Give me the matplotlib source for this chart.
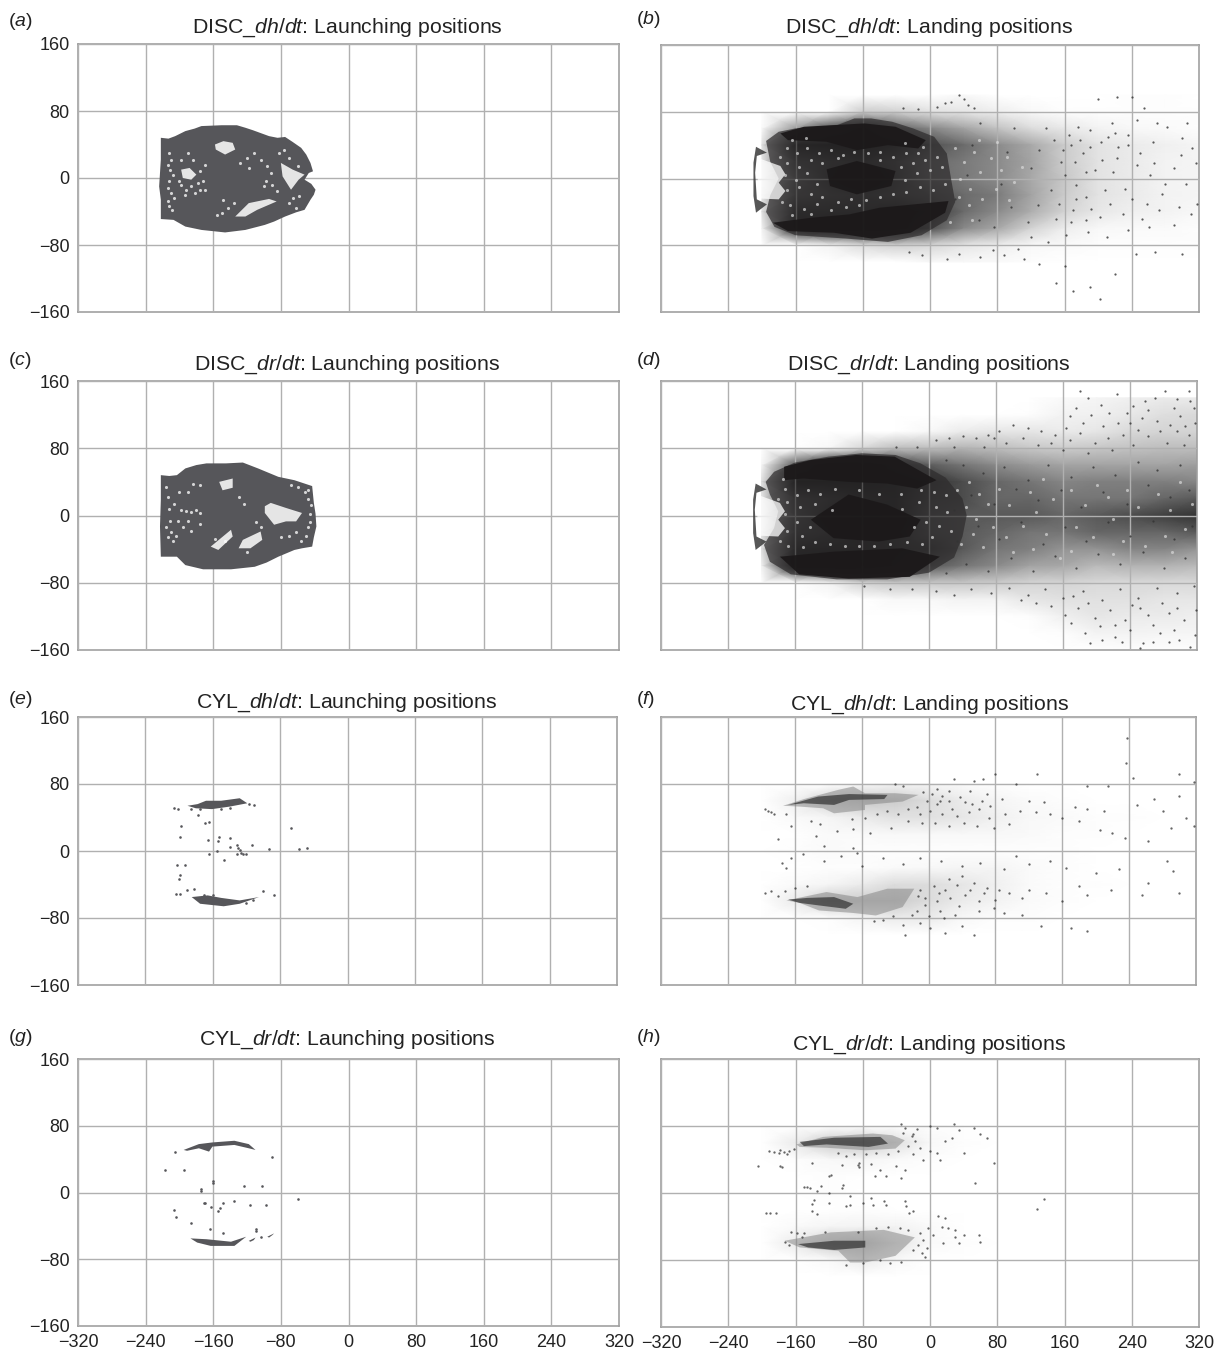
import matplotlib
matplotlib.use('Agg')
import matplotlib.pyplot as plt
import numpy as np

plt.rcParams['font.family'] = ['Liberation Sans', 'DejaVu Sans']
plt.rcParams['mathtext.fontset'] = 'custom'
plt.rcParams['mathtext.rm'] = 'Liberation Sans'
plt.rcParams['mathtext.it'] = 'Liberation Sans:italic'
plt.rcParams['mathtext.default'] = 'regular'

TICKS_X = [-320, -240, -160, -80, 0, 80, 160, 240, 320]
TICKS_Y = [-160, -80, 0, 80, 160]
TITLES = {
    'a': r'DISC_$\mathit{dh/dt}$: Launching positions',
    'b': r'DISC_$\mathit{dh/dt}$: Landing positions',
    'c': r'DISC_$\mathit{dr/dt}$: Launching positions',
    'd': r'DISC_$\mathit{dr/dt}$: Landing positions',
    'e': r'CYL_$\mathit{dh/dt}$: Launching positions',
    'f': r'CYL_$\mathit{dh/dt}$: Landing positions',
    'g': r'CYL_$\mathit{dr/dt}$: Launching positions',
    'h': r'CYL_$\mathit{dr/dt}$: Landing positions',
}

# launching clouds: outlines and the white gaps inside them
A_CLOUD = [(-222, 48), (-213, 47), (-205, 50), (-193, 56), (-182, 59), (-174, 62), (-150, 63), (-132, 63), (-122, 60),
           (-113, 57), (-94, 50), (-84, 48), (-75, 49), (-66, 43), (-56, 36), (-50, 28), (-45, 18), (-42, 8), (-47, 6),
           (-52, -2), (-44, -7), (-39, -14), (-41, -20), (-45, -26), (-52, -38), (-62, -41), (-75, -46), (-88, -52),
           (-99, -56), (-122, -62), (-146, -65), (-174, -62), (-193, -58), (-207, -50), (-222, -49), (-222, -26),
           (-224, -10), (-222, 22)]
A_GAPS = [[(-158, 40), (-148, 44), (-137, 42), (-134, 34), (-146, 28), (-157, 34)],
          [(-80, 18), (-66, 10), (-52, 4), (-59, -2), (-68, -14), (-78, 2)],
          [(-134, -46), (-118, -30), (-94, -25), (-85, -28), (-108, -38), (-122, -46)],
          [(-198, 10), (-188, 12), (-180, 4), (-186, -2), (-196, 0)]]
A_SPECK = [(-212, 30), (-210, 22), (-211, 10), (-212, -4), (-210, -18), (-213, -28), (-212, -33), (-209, -38),
           (-214, 16), (-208, 4), (-213, -12), (-207, -24), (-198, -8), (-192, -14), (-186, -10), (-178, -6), (-172, -4),
           (-176, 8), (-170, 16), (-198, 22), (-190, 30), (-120, 24), (-112, 30), (-104, 22), (-96, 14), (-92, 6),
           (-90, -8), (-84, -16), (-100, -10), (-150, -42), (-142, -36), (-156, -44), (-128, 18), (-118, 12), (-70, -30),
           (-62, -36), (-70, 24), (-60, 14), (-194, -20), (-182, -18), (-170, -14), (-200, -4), (-184, 22), (-176, -14),
           (-148, -26), (-136, -30), (-98, -4), (-76, 34), (-82, 30), (-66, -24), (-58, -22)]

C_CLOUD = [(-222, 48), (-212, 47), (-203, 48), (-193, 56), (-180, 60), (-168, 62), (-145, 62), (-125, 63), (-107, 56),
           (-95, 51), (-83, 46), (-64, 42), (-52, 38), (-43, 35), (-42, 25), (-41, 15), (-39, 2), (-38, -13), (-41, -26),
           (-43, -37), (-55, -39), (-64, -41), (-83, -49), (-97, -56), (-111, -61), (-139, -64), (-172, -64), (-193, -59),
           (-203, -49), (-222, -49), (-223, -13), (-222, 19)]
C_GAPS = [[(-153, 40), (-137, 44), (-137, 33), (-149, 30)],
          [(-99, 11), (-92, 15), (-74, 9), (-55, 3), (-62, -7), (-74, -7), (-88, -11), (-99, 3)],
          [(-125, -29), (-104, -19), (-102, -29), (-116, -39), (-130, -39)],
          [(-163, -37), (-139, -17), (-137, -25), (-154, -41)]]
C_SPECK = [(-213, 22), (-212, 8), (-211, -6), (-210, -20), (-214, -26), (-208, -30), (-198, 6), (-192, 5), (-186, 4),
           (-180, 6), (-176, 3), (-196, -14), (-186, -18), (-190, 28), (-184, 38), (-176, 36), (-130, 22), (-124, 14),
           (-60, 34), (-52, 28), (-48, 20), (-68, 36), (-50, -24), (-56, -30), (-70, -24), (-80, -26), (-120, -44),
           (-146, -30), (-158, -28), (-110, -8), (-104, -14), (-46, 2), (-46, -8), (-216, 34), (-206, 14), (-202, -6),
           (-216, -14), (-204, -24), (-190, -6), (-200, 28), (-176, -10), (-48, 30), (-44, 12), (-62, -20), (-48, -14)]

E_CLOUDS = [[(-190, 54), (-178, 56), (-168, 60), (-150, 60), (-128, 63), (-119, 57), (-140, 53), (-161, 50), (-180, 51)],
            [(-185, -55), (-166, -53), (-150, -56), (-128, -59), (-105, -55), (-128, -63), (-147, -66), (-175, -63)]]
E_DOTS = [(-206, 51), (-201, 50), (-178, 43), (-169, 34), (-164, 35), (-198, 30), (-199, 17), (-166, 13), (-153, 17),
          (-139, 15), (-154, 12), (-140, 5), (-131, 7), (-128, 1), (-131, -4), (-124, -3), (-120, -3), (-113, 7),
          (-93, 2), (-67, 27), (-57, 2), (-48, 3), (-155, 0), (-165, -3), (-147, -11), (-202, -17), (-193, -17),
          (-199, -29), (-200, -33), (-199, -51), (-204, -51), (-191, -47), (-182, -45), (-100, -48), (-87, -53),
          (-117, 56), (-111, 55), (-130, 4), (-127, -2), (-186, 50), (-175, 50), (-150, 50), (-140, 51), (-170, -52),
          (-160, -52), (-120, -62), (-112, -58)]

G_CLOUDS = [[(-195, 51), (-177, 58), (-161, 60), (-135, 62), (-118, 58), (-110, 51), (-118, 53), (-135, 57),
             (-161, 55), (-165, 49), (-177, 53), (-191, 50)],
            [(-187, -55), (-168, -56), (-139, -59), (-121, -53), (-135, -64), (-163, -64), (-179, -60)],
            [(-118, -58), (-110, -54), (-112, -57), (-116, -59)],
            [(-96, -53), (-88, -49), (-90, -51), (-94, -54)]]
G_DOTS = [(-205, 49), (-217, 27), (-195, 27), (-175, 4), (-174, 2), (-160, 11), (-160, 14), (-102, 8), (-124, 8),
          (-60, -8), (-171, -12), (-170, -13), (-149, -13), (-152, -19), (-154, -22), (-136, -10), (-116, -15),
          (-98, -15), (-207, -21), (-204, -29), (-186, -37), (-164, -44), (-109, -44), (-149, -49), (-90, 43),
          (-163, -17), (-104, -53), (-110, -46)]

# landing panels: darkness read on a coarse x / y net
NET_X = [-200, -160, -120, -80, -40, 0, 40, 80, 120, 160, 200, 240, 280, 320]
B_NET_Y = [100, 80, 60, 40, 20, 0, -20, -40, -60, -80, -100]
B_NET = [[0, 0, 0, 0, 0, 0, .03, 0, 0, 0, 0, .01, .01, 0],
         [0, 0, 0, .2, .18, .12, .1, .07, .03, .01, .01, .01, .01, .01],
         [.02, .4, .7, .85, .62, .48, .36, .24, .14, .09, .05, .03, .02, .01],
         [.12, .9, .95, .95, .88, .68, .58, .46, .34, .2, .11, .08, .06, .04],
         [.1, .72, .8, .85, .75, .58, .52, .46, .36, .2, .11, .08, .05, .04],
         [.08, .62, .82, .92, .78, .58, .52, .46, .34, .22, .11, .08, .05, .04],
         [.1, .68, .75, .8, .75, .68, .58, .52, .36, .2, .11, .08, .05, .04],
         [.12, .85, .85, .85, .9, .78, .58, .46, .32, .17, .09, .06, .05, .03],
         [.05, .88, .95, .95, .9, .68, .46, .34, .17, .07, .03, .02, .02, .01],
         [0, 0, .05, .14, .18, .16, .1, .07, .03, .02, .01, .01, .01, .01],
         [0, 0, 0, 0, 0, .03, .03, .02, .01, 0, 0, 0, 0, 0]]
D_NET_Y = [140, 120, 100, 80, 60, 40, 20, 0, -20, -40, -60, -80, -100, -120, -140, -160]
D_NET = [[0, 0, 0, 0, 0, 0, 0, 0, 0, .02, .04, .06, .08, .08],
         [0, 0, 0, 0, 0, 0, 0, 0, .01, .05, .06, .09, .13, .15],
         [0, 0, 0, 0, 0, .03, .08, .1, .1, .08, .1, .15, .17, .17],
         [0, 0, .03, .16, .26, .26, .3, .26, .22, .2, .22, .24, .26, .26],
         [.03, .65, .95, .97, .75, .64, .54, .46, .4, .36, .36, .36, .36, .38],
         [.12, .95, .95, .95, .92, .8, .7, .6, .54, .48, .5, .5, .5, .48],
         [.1, .75, .82, .88, .9, .75, .7, .6, .6, .54, .54, .54, .6, .65],
         [.08, .7, .86, .95, .9, .7, .65, .65, .65, .6, .65, .7, .75, .8],
         [.1, .75, .82, .9, .85, .7, .65, .6, .54, .54, .6, .6, .6, .65],
         [.12, .88, .9, .9, .85, .8, .65, .54, .5, .42, .42, .48, .48, .42],
         [.05, .95, .97, .97, .8, .65, .54, .46, .36, .34, .27, .3, .3, .27],
         [0, 0, .05, .18, .22, .22, .22, .2, .17, .17, .15, .15, .15, .15],
         [0, 0, 0, 0, .03, .03, .05, .05, .1, .12, .12, .12, .1, .1],
         [0, 0, 0, 0, 0, 0, 0, 0, .01, .06, .1, .08, .08, .06],
         [0, 0, 0, 0, 0, 0, 0, 0, 0, .01, .05, .05, .04, .04],
         [0, 0, 0, 0, 0, 0, 0, 0, 0, 0, 0, .01, .01, .01]]
F_NET_Y = [80, 60, 40, 20, 0, -20, -40, -60, -80, -100]
F_NET = [[0, 0, 0, .03, .05, .04, .02, .01, 0, 0, 0, 0, 0, 0],
         [0, .06, .18, .22, .2, .14, .08, .04, .02, .01, 0, 0, 0, 0],
         [0, .02, .04, .08, .12, .12, .1, .06, .03, .02, .01, .01, 0, 0],
         [0, 0, .02, .02, .03, .03, .03, .03, .02, .01, .01, 0, 0, 0],
         [0, .01, .02, .01, .01, .01, .01, .01, .01, .01, 0, 0, 0, 0],
         [0, 0, .01, .01, .02, .03, .04, .04, .02, .01, 0, 0, 0, 0],
         [0, .02, .04, .08, .14, .14, .1, .06, .02, .01, .01, 0, 0, 0],
         [0, .08, .2, .2, .2, .14, .08, .05, .02, .01, 0, 0, 0, 0],
         [0, 0, .01, .04, .08, .08, .03, .01, .01, 0, 0, 0, 0, 0],
         [0, 0, 0, 0, 0, 0, 0, 0, 0, 0, 0, 0, 0, 0]]
H_NET_Y = [80, 60, 40, 20, 0, -20, -40, -60, -80, -100]
H_NET = [[0, 0, 0, .01, .01, .01, 0, 0, 0, 0, 0, 0, 0, 0],
         [0, .08, .2, .22, .12, .03, .01, 0, 0, 0, 0, 0, 0, 0],
         [0, .01, .03, .04, .02, .01, 0, 0, 0, 0, 0, 0, 0, 0],
         [0, 0, .01, 0, 0, 0, 0, 0, 0, 0, 0, 0, 0, 0],
         [0, 0, .01, 0, 0, 0, 0, 0, 0, 0, 0, 0, 0, 0],
         [0, 0, 0, .01, 0, 0, 0, 0, 0, 0, 0, 0, 0, 0],
         [0, .02, .04, .05, .05, .02, 0, 0, 0, 0, 0, 0, 0, 0],
         [0, .08, .2, .22, .1, .02, .01, 0, 0, 0, 0, 0, 0, 0],
         [0, 0, .02, .08, .03, 0, 0, 0, 0, 0, 0, 0, 0, 0],
         [0, 0, 0, 0, 0, 0, 0, 0, 0, 0, 0, 0, 0, 0]]

# dense bodies and cores of the landing clouds
B_BODY = [(-195, 45), (-180, 56), (-160, 60), (-110, 64), (-90, 72), (-70, 72), (-45, 68), (-20, 60), (5, 50), (20, 30),
          (25, 0), (30, -28), (20, -50), (-10, -68), (-50, -76), (-100, -72), (-160, -68), (-185, -58), (-195, -40),
          (-190, -20), (-180, 0), (-190, 20)]
D_BODY = [(-195, 40), (-185, 52), (-160, 63), (-120, 70), (-80, 74), (-40, 72), (-10, 62), (20, 45), (40, 20), (45, 0),
          (40, -25), (30, -50), (0, -68), (-50, -76), (-110, -76), (-165, -70), (-190, -55), (-197, -35), (-185, -15),
          (-180, 5), (-190, 25)]
B_CORES = [[(-178, 54), (-150, 62), (-78, 66), (-41, 62), (-5, 46), (-14, 36), (-50, 40), (-87, 34), (-123, 44), (-169, 46)],
           [(-123, 11), (-87, 21), (-41, 9), (-46, -9), (-87, -19), (-119, -9)],
           [(-187, -53), (-141, -47), (-96, -43), (-60, -35), (22, -27), (18, -41), (-23, -65), (-69, -72), (-114, -65), (-169, -63)]]
D_CORES = [[(-173, 58), (-141, 66), (-87, 72), (-41, 70), (9, 42), (-14, 32), (-50, 38), (-96, 40), (-150, 44), (-173, 42)],
           [(-141, -5), (-96, 25), (-50, 13), (-10, -5), (-23, -25), (-60, -31), (-114, -27)],
           [(-178, -49), (-114, -43), (-32, -39), (13, -49), (-23, -73), (-96, -75), (-155, -70)]]
FRONT = [(-207, 38), (-194, 31), (-206, 27), (-208, 7), (-206, -25), (-194, -31), (-207, -41), (-210, -21), (-210, 19)]
FRONT_GAP = [(-203, 24), (-178, 15), (-172, 5), (-180, -5), (-172, -15), (-180, -25), (-203, -24), (-205, 0)]

B_SPECK = [(-170, 36), (-158, 30), (-146, 36), (-132, 30), (-118, 34), (-104, 28), (-90, 32), (-74, 30), (-60, 32),
           (-170, 18), (-156, 14), (-142, 22), (-128, 18), (-110, 24), (-60, 22), (-44, 26), (-28, 30), (-14, 30),
           (-172, 4), (-160, -2), (-146, 6), (-134, -6), (-34, 14), (-20, 18), (-6, 22), (8, 26), (-30, -2), (-16, 6),
           (0, 10), (14, 14), (-170, -14), (-156, -10), (-142, -18), (-128, -22), (-110, -28), (-94, -24), (-76, -26),
           (-60, -22), (-44, -18), (-28, -16), (-12, -10), (4, -14), (18, -6), (-166, -32), (-150, -36), (-134, -30),
           (-118, -38), (-100, -34), (-84, -32), (-178, 26), (-176, -28), (-164, 46), (-148, 48), (-30, 42), (-164, -44),
           (-142, -42), (-8, 38), (30, 36), (40, 20), (52, 32), (36, 0), (48, -12), (60, 8), (34, -22), (46, -32), (62, -24),
           (72, 24), (84, 10), (78, -12), (92, 26), (100, -4), (94, -26), (110, 14), (58, 46), (80, 44), (24, -52), (50, -50)]
D_SPECK = [(-172, 32), (-158, 24), (-144, 30), (-130, 26), (-112, 32), (-84, 30), (-60, 26), (-34, 26), (-170, 16),
           (-154, 10), (-136, 14), (-116, 6), (-32, 8), (-12, 16), (-172, 2), (-158, -8), (-142, -14), (-18, -14), (-4, -8),
           (-170, -18), (-152, -24), (-136, -32), (-118, -34), (-100, -36), (-84, -36), (-66, -36), (-46, -34), (-26, -32),
           (-8, -34), (-168, -36), (-150, -38), (-10, 30), (6, 28), (20, 24), (-174, 44), (-180, 20), (-178, -30), (8, 10),
           (22, 4), (12, -12), (26, -18), (4, -26), (34, 30), (48, 40), (60, 26), (44, 10), (56, -4), (70, 14), (84, 32),
           (96, 12), (76, -14), (92, -26), (52, -22), (38, -34), (64, -38), (100, -44), (120, 28), (136, 44), (148, 20),
           (128, 4), (112, -12), (140, -22), (124, -40), (156, -50), (170, 30), (186, 12), (200, 36), (214, 22), (176, -14),
           (196, -26), (220, -4), (236, 30), (250, 10), (232, -30), (258, -36), (274, 26), (288, 6), (300, 40), (282, -24),
           (306, -16), (314, 14), (220, -46), (290, -44), (170, -42)]

F_STREAKS = [[(-174, 54), (-149, 62), (-108, 73), (-90, 77), (-76, 69), (-40, 69), (-12, 67), (-31, 59), (-76, 55),
              (-76, 49), (-113, 45), (-126, 51), (-154, 53)],
             [(-170, -59), (-122, -49), (-85, -55), (-49, -45), (-17, -45), (-31, -67), (-63, -77), (-90, -74),
              (-131, -71), (-154, -62)]]
F_DARK = [[(-168, 55), (-132, 65), (-95, 68), (-49, 67), (-53, 62), (-95, 61), (-113, 55), (-149, 57)],
          [(-168, -58), (-145, -56), (-113, -55), (-90, -63), (-99, -69), (-131, -65), (-154, -62)]]
H_STREAKS = [[(-159, 58), (-127, 67), (-68, 71), (-45, 69), (-30, 63), (-41, 53), (-77, 51), (-123, 54), (-155, 55)],
             [(-173, -57), (-118, -47), (-55, -44), (-18, -53), (-41, -75), (-77, -83), (-95, -83), (-109, -69), (-155, -65)]]
H_DARK = [[(-155, 61), (-114, 66), (-59, 67), (-50, 59), (-73, 55), (-123, 58), (-150, 56)],
          [(-157, -61), (-114, -57), (-77, -57), (-77, -65), (-114, -68), (-145, -65)]]

B_DOTS = [(40, 95), (35, 100), (25, 92), (45, 88), (18, 90), (52, 84), (-32, 85), (-14, 83), (8, 86), (200, 95), (222, 98),
          (240, 98), (255, 85), (150, -125), (170, -135), (190, -130), (202, -145), (220, -115), (160, -105), (130, -102),
          (112, -96), (88, -92), (60, -94), (20, -96), (-10, -92), (-25, -88), (35, -90), (75, -86), (105, -84), (245, -90),
          (268, -88), (300, -90), (282, 62), (300, 48), (312, 36), (265, 44), (250, 30), (236, 52), (224, 38), (212, 50),
          (205, 22), (218, 8), (232, -12), (246, 16), (262, 4), (276, -18), (290, 12), (305, -6), (316, 18), (258, -30),
          (272, -38), (296, -34), (310, -42), (230, -42), (214, -30), (202, -46), (190, 58), (176, 62), (168, 40),
          (182, 30), (196, 10), (174, -8), (186, -22), (170, -38), (156, 20), (148, 46), (138, 60), (130, 34), (120, 12),
          (144, -14), (128, -32), (150, -48), (116, -52), (100, 60), (92, 32), (84, -6), (96, -34), (76, -58), (60, 66),
          (50, 40), (44, 4), (30, -24), (58, -50), (270, 66), (306, 66), (246, 70), (216, 66), (318, -30), (290, -56),
          (260, -58), (236, -62), (210, -70), (188, -64), (162, -68), (140, -76), (120, -70), (165, 52), (178, 46),
          (190, 38), (158, 34), (172, 20), (186, 8), (160, 4), (174, -24), (192, -36), (208, -14), (222, 24), (236, 40),
          (154, -30), (168, -52), (186, -50), (204, 44), (220, 54), (240, -24), (252, -48), (266, 18), (280, -6), (298, 28)]
D_DOTS = [(180, 148), (190, 140), (205, 132), (215, 122), (168, 118), (176, 128), (225, 145), (240, 110), (254, 116),
          (262, 126), (270, 140), (282, 148), (296, 138), (310, 148), (316, 128), (300, 118), (288, 108), (276, 100),
          (262, 94), (250, 102), (232, 96), (214, 92), (198, 86), (180, 98), (168, 90), (150, 96), (134, 100), (118, 104),
          (100, 108), (84, 100), (70, 96), (56, 92), (40, 94), (24, 92), (8, 90), (-14, 82), (-40, 82), (310, 96),
          (318, 110), (304, 84), (284, 86), (244, 84), (218, 78), (190, 74), (160, 78), (130, 84), (92, 86), (66, 82),
          (30, 82), (300, 60), (272, 54), (250, 64), (222, 48), (196, 58), (170, 46), (142, 60), (118, 42), (90, 58),
          (64, 50), (40, 60), (20, 66), (310, 30), (288, 22), (262, 36), (236, 14), (208, 28), (182, 10), (158, 30),
          (130, 18), (104, 32), (78, 14), (50, 24), (30, 6), (314, -12), (292, -28), (268, -6), (240, -24), (214, -8),
          (188, -30), (162, -14), (136, -34), (110, -8), (84, -28), (58, -12), (34, -30), (306, -50), (280, -62), (256, -44),
          (228, -58), (202, -46), (176, -62), (150, -48), (124, -66), (98, -50), (70, -66), (44, -58), (20, -68),
          (316, -84), (296, -92), (272, -86), (250, -98), (228, -88), (206, -100), (184, -90), (160, -98), (138, -88),
          (118, -94), (96, -86), (74, -92), (50, -88), (30, -94), (8, -90), (-20, -88), (-46, -88), (-78, -84),
          (319, -112), (304, -124), (286, -116), (268, -130), (252, -110), (234, -124), (216, -112), (198, -122),
          (178, -110), (162, -118), (146, -108), (128, -104), (110, -100), (318, -142), (298, -148), (276, -140),
          (256, -152), (240, -136), (222, -144), (204, -132), (186, -140), (170, -128), (252, -158), (312, -156),
          (244, 130), (258, 136), (292, 128), (306, 106), (272, 112), (226, 110), (194, 120), (208, 106), (184, 110),
          (312, 136), (236, 122), (296, 100), (164, 104), (146, 86), (112, 92), (78, 92), (296, -110), (278, -104),
          (262, -118), (242, -106), (222, -130), (190, -104), (172, -96), (292, -136), (268, -150), (230, -150),
          (206, -148), (192, -152), (286, -150)]
F_DOTS = [(238, 135), (236, 105), (300, 92), (318, 82), (80, 92), (130, 92), (245, 87), (65, 86), (30, 86), (55, 84),
          (105, 80), (190, 78), (215, 78), (-40, 80), (-30, 78), (10, 74), (25, 72), (50, 72), (70, 68), (88, 62),
          (120, 60), (138, 58), (175, 52), (190, 50), (210, 48), (270, 62), (300, 66), (280, 48), (250, 55), (308, 40),
          (318, 30), (290, 28), (262, 12), (235, 15), (220, 22), (205, 25), (180, 36), (160, 40), (145, 44), (128, 46),
          (110, 48), (92, 44), (72, 40), (60, 50), (44, 58), (28, 50), (14, 60), (-10, 44), (-25, 36), (-45, 28),
          (-70, 22), (-90, 26), (-110, 24), (-130, 32), (-135, 18), (-165, 30), (-180, 14), (-90, 4), (-85, -2), (-125, 6),
          (-150, -4), (-165, -8), (-175, -14), (-170, -20), (-125, -12), (-105, -6), (-80, -18), (-55, -8), (-30, -16),
          (-10, -8), (15, -12), (40, -18), (62, -14), (90, -22), (105, -6), (120, -16), (145, -12), (165, -20), (200, -26),
          (228, -22), (285, -12), (292, -24), (262, -38), (218, -46), (255, -52), (300, -50), (190, -52), (180, -42),
          (160, -60), (140, -50), (120, -46), (112, -56), (96, -50), (80, -58), (70, -44), (54, -38), (40, -30), (24, -34),
          (12, -50), (-4, -56), (-14, -72), (14, -72), (36, -66), (60, -72), (90, -74), (112, -76), (-65, -84), (-30, -88),
          (-10, -86), (2, -92), (20, -98), (40, -90), (55, -100), (-28, -100), (135, -90), (170, -92), (190, -95),
          (-195, 50), (-192, 48), (-188, 46), (-185, 44), (-170, 44), (-140, 36), (-195, -50), (-188, -48), (-180, -54),
          (-172, -48), (-160, -44), (-145, -42),
          (-6, 70), (4, 68), (16, 66), (-2, 60), (10, 56), (24, 60), (38, 64), (52, 56), (64, 60), (-14, 52), (2, 48),
          (16, 44), (34, 42), (48, 46), (74, 54), (-24, 50), (-36, 44), (-50, 48), (-62, 44), (-76, 40), (-92, 38),
          (-8, 34), (8, 34), (24, 30), (42, 34), (58, 30), (78, 28), (96, 32),
          (-10, -46), (6, -42), (20, -46), (34, -40), (50, -46), (66, -50), (84, -46), (-4, -64), (10, -60), (26, -56),
          (44, -52), (60, -60), (78, -68), (-20, -76), (0, -78), (18, -80), (32, -76), (-42, -78), (-54, -82), (-12, -54)]
H_DOTS = [(-205, 32), (-178, 32), (-176, 31), (-85, 36), (-86, 33), (-84, 31), (-70, 35), (-60, 28), (-65, 20), (-52, 20),
          (-40, 32), (-35, 18), (-120, 20), (-118, 22), (-105, 34), (-140, 36), (-30, 28), (-12, 54), (0, 50), (8, 48),
          (-20, 46), (-8, 40), (12, 40), (18, 62), (26, 66), (40, 48), (28, 82), (52, 78), (35, 75), (60, 70), (68, 66),
          (76, 36), (54, 12), (136, -7), (127, -19), (-150, 7), (-146, 7), (-143, 6), (-130, 8), (-105, 6), (-103, 9),
          (-135, 2), (-120, 0), (-95, -3), (-70, -6), (-55, -10), (-52, -14), (-138, -8), (-140, -13), (-120, -12),
          (-100, -15), (-95, -14), (-80, -12), (-68, -14), (-30, -10), (-28, -15), (-25, -24), (-20, -22), (-140, -22),
          (-135, -25), (-190, -24), (-183, -24), (-195, -24), (10, -28), (14, -40), (18, -30), (22, -42), (30, -44),
          (-2, -42), (4, -50), (15, -60), (30, -52), (40, -50), (34, -60), (58, -50), (59, -58), (-10, -72), (-6, -76),
          (-20, -68), (-35, -82), (-48, -84), (-60, -80), (-80, -84), (-100, -86), (-165, -47), (-158, -48), (-150, -48),
          (-172, -58), (-168, -62), (-152, -52), (-125, -46), (-30, 78), (-35, 82), (-20, 70), (-15, 76), (0, 80), (8, 78),
          (-192, 50), (-186, 49), (-180, 48), (-174, 49), (-168, 50), (-162, 52), (-178, 51), (-170, 47), (-110, 48),
          (-100, 44), (-90, 46), (-76, 46), (-64, 48), (-50, 46), (-38, 50), (-26, 56), (-18, 62), (-22, 68), (-32, 72),
          (-12, -48), (-8, -56), (-14, -62), (-4, -66), (-26, -44), (-36, -42), (-50, -40), (-64, -42), (-86, -46)]

PANELS = [
    ('a', (78, 44, 619, 312), 'launch', A_CLOUD, A_GAPS, A_SPECK),
    ('c', (78, 381, 619, 650), 'launch', C_CLOUD, C_GAPS, C_SPECK),
    ('e', (78, 717, 617, 985), 'cyl_launch', E_CLOUDS, E_DOTS),
    ('g', (78, 1059, 619, 1326), 'cyl_launch', G_CLOUDS, G_DOTS),
    ('b', (661, 45, 1199, 312), 'land', B_NET_Y, B_NET, B_BODY, B_CORES, B_SPECK, B_DOTS),
    ('d', (661, 381, 1197, 650), 'land', D_NET_Y, D_NET, D_BODY, D_CORES, D_SPECK, D_DOTS),
    ('f', (661, 717, 1196, 985), 'cyl_land', F_NET_Y, F_NET, F_STREAKS, F_DARK, F_DOTS),
    ('h', (661, 1059, 1199, 1327), 'cyl_land', H_NET_Y, H_NET, H_STREAKS, H_DARK, H_DOTS),
]
LABEL_POS = {'a': (8, 21), 'b': (636, 19), 'c': (8, 361), 'd': (636, 361),
             'e': (8, 699), 'f': (636, 699), 'g': (8, 1037), 'h': (636, 1037)}
TITLE_POS = {'a': (347, 28), 'b': (929, 28), 'c': (347, 365), 'd': (929, 365),
             'e': (347, 703), 'f': (929, 705), 'g': (347, 1040), 'h': (929, 1045)}

W, H = 1219, 1351
GREY = '#56565a'
INK = '#1c191a'
fig = plt.figure(figsize=(W / 100, H / 100), dpi=100)


def fill(ax, outline, color, alpha=1.0, z=3):
    xs, ys = zip(*outline)
    ax.fill(xs, ys, color=color, alpha=alpha, lw=0, zorder=z)


def dots(ax, pts, color, size=3.0, alpha=1.0, z=4):
    xs, ys = zip(*pts)
    ax.scatter(xs, ys, s=size, c=color, alpha=alpha, linewidths=0, zorder=z)


for panel in PANELS:
    name, (x0, y0, x1, y1), kind = panel[:3]
    ax = fig.add_axes([x0 / W, 1 - y1 / H, (x1 - x0) / W, (y1 - y0) / H])
    ax.set_xlim(-320, 320)
    ax.set_ylim(-160, 160)
    ax.set_xticks(TICKS_X)
    ax.set_yticks(TICKS_Y)
    ax.grid(True, color='#b0b0b0', lw=1.0, zorder=2)
    ax.set_axisbelow(False)
    ax.tick_params(length=0, labelsize=13, pad=6, colors='#222222')
    ax.xaxis.set_major_formatter(lambda v, p: f'\u2212{abs(int(v))}' if v < 0 else f'{int(v)}')
    ax.yaxis.set_major_formatter(lambda v, p: f'\u2212{abs(int(v))}' if v < 0 else f'{int(v)}')
    if name not in 'gh':
        ax.tick_params(labelbottom=False)
    if name in 'bdfh':
        ax.tick_params(labelleft=False)
    for side, spine in ax.spines.items():
        spine.set_color('#999999')
        spine.set_linewidth(1.1)

    if kind == 'launch':
        cloud, gaps, speck = panel[3:]
        fill(ax, cloud, GREY, z=3)
        for gap in gaps:
            fill(ax, gap, 'white', alpha=0.85, z=3.2)
        dots(ax, speck, 'white', size=5, alpha=0.75, z=3.3)
    elif kind == 'cyl_launch':
        clouds, pts = panel[3:5]
        for c in clouds:
            fill(ax, c, GREY, z=3)
        dots(ax, pts, GREY, size=3.5)
    elif kind == 'land':
        net_y, net, body, cores, speck, pts = panel[3:]
        ax.pcolormesh(NET_X, net_y, np.array(net), shading='gouraud', cmap='gray_r', vmin=0, vmax=1.0, zorder=1)
        fill(ax, body, '#2e2c2d', alpha=0.72, z=3)
        fill(ax, FRONT_GAP, 'white', alpha=0.75, z=3.05)
        for c in cores:
            fill(ax, c, INK, alpha=0.95, z=3.1)
        fill(ax, FRONT, '#3a3a3a', alpha=0.85, z=3.1)
        dots(ax, speck, '#d8d8d8', size=5, alpha=0.7, z=3.3)
        dots(ax, pts, '#333333', size=2.6, alpha=0.8)
    else:
        net_y, net, streaks, dark, pts = panel[3:]
        ax.pcolormesh(NET_X, net_y, np.array(net), shading='gouraud', cmap='gray_r', vmin=0, vmax=1.0, zorder=1)
        for c in streaks:
            fill(ax, c, '#808080', alpha=0.5, z=3)
        for c in dark:
            fill(ax, c, '#262626', alpha=0.65, z=3.2)
        dots(ax, pts, '#333333', size=2.8, alpha=0.75)

    lx, ly = LABEL_POS[name]
    fig.text(lx / W, 1 - ly / H, f'($\\mathit{{{name}}}$)', fontsize=14, va='center', ha='left', color='#222222')
    tx, ty = TITLE_POS[name]
    fig.text(tx / W, 1 - ty / H, TITLES[name], fontsize=15.3, va='center', ha='center', color='#222222')

fig.savefig('out.png', dpi=100)
